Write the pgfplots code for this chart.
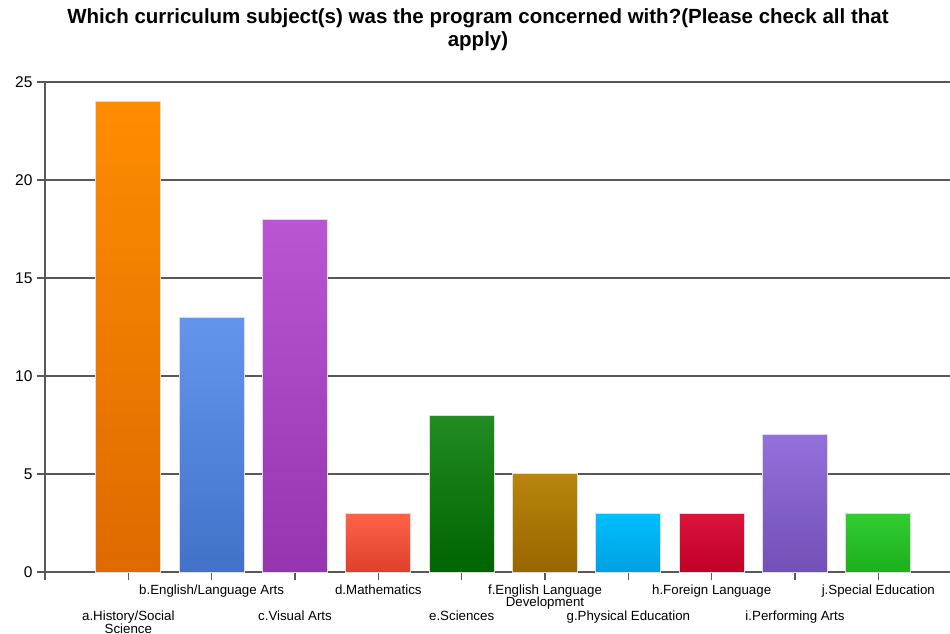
\documentclass[border=0pt]{standalone}
\usepackage{fontspec}
\setmainfont{Liberation Sans}
\usepackage{pgfplots}
\pgfplotsset{compat=1.18}

\definecolor{gridc}{HTML}{585858}
\definecolor{barline}{HTML}{DDDDDD}

\begin{document}
\begin{tikzpicture}
\useasboundingbox (-45pt,-62pt) rectangle (905pt,572pt);
\begin{axis}[
    at={(0,0)}, anchor=south west,
    scale only axis,
    width=905pt, height=490pt,
    xmin=0, xmax=10.86,
    ymin=0, ymax=25,
    axis lines*=left,
    axis line style={line width=1.5pt, color=gridc},
    ymajorgrids,
    grid style={line width=1.3pt, color=gridc},
    ytick={0,5,...,25},
    tick align=outside,
    major tick length=8pt,
    tick style={line width=1.2pt, color=gridc},
    /pgf/number format/assume math mode=true,
    yticklabel style={font=\fontsize{15.5}{15.5}\selectfont, xshift=-1pt},
    xtick={0,2,4,6,8,10},
    xticklabels={,{b.English/Language Arts},{d.Mathematics},{f.English Language\\Development},{h.Foreign Language},{j.Special Education}},
    xticklabel style={font=\fontsize{13.3}{12.5}\selectfont, align=center, yshift=-1pt},
    extra x ticks={1,3,5,7,9},
    extra x tick labels={{a.History/Social\\Science},{c.Visual Arts},{e.Sciences},{g.Physical Education},{i.Performing Arts}},
    extra x tick style={xmajorgrids=false, xticklabel style={yshift=-26.5pt}},
    ybar, bar width=65pt, bar shift=0pt,
    clip=false,
]
\addplot[draw=barline, line width=1pt, top color={rgb,255:red,255;green,140;blue,0}, bottom color={rgb,255:red,222;green,106;blue,0}] coordinates {(1,24)};
\addplot[draw=barline, line width=1pt, top color={rgb,255:red,100;green,149;blue,237}, bottom color={rgb,255:red,66;green,114;blue,200}] coordinates {(2,13)};
\addplot[draw=barline, line width=1pt, top color={rgb,255:red,186;green,85;blue,211}, bottom color={rgb,255:red,149;green,53;blue,176}] coordinates {(3,18)};
\addplot[draw=barline, line width=1pt, top color={rgb,255:red,255;green,99;blue,71}, bottom color={rgb,255:red,222;green,64;blue,44}] coordinates {(4,3)};
\addplot[draw=barline, line width=1pt, top color={rgb,255:red,34;green,139;blue,34}, bottom color={rgb,255:red,0;green,100;blue,0}] coordinates {(5,8)};
\addplot[draw=barline, line width=1pt, top color={rgb,255:red,184;green,134;blue,11}, bottom color={rgb,255:red,152;green,102;blue,0}] coordinates {(6,5)};
\addplot[draw=barline, line width=1pt, top color={rgb,255:red,0;green,191;blue,255}, bottom color={rgb,255:red,0;green,160;blue,224}] coordinates {(7,3)};
\addplot[draw=barline, line width=1pt, top color={rgb,255:red,220;green,20;blue,60}, bottom color={rgb,255:red,192;green,0;blue,40}] coordinates {(8,3)};
\addplot[draw=barline, line width=1pt, top color={rgb,255:red,147;green,112;blue,219}, bottom color={rgb,255:red,114;green,80;blue,184}] coordinates {(9,7)};
\addplot[draw=barline, line width=1pt, top color={rgb,255:red,50;green,205;blue,50}, bottom color={rgb,255:red,28;green,176;blue,28}] coordinates {(10,3)};
\end{axis}
\node[font=\bfseries\fontsize{20.5}{23}\selectfont, align=center] at (433pt,542pt)
  {Which curriculum subject(s) was the program concerned with?(Please check all that\\apply)};
\end{tikzpicture}
\end{document}
